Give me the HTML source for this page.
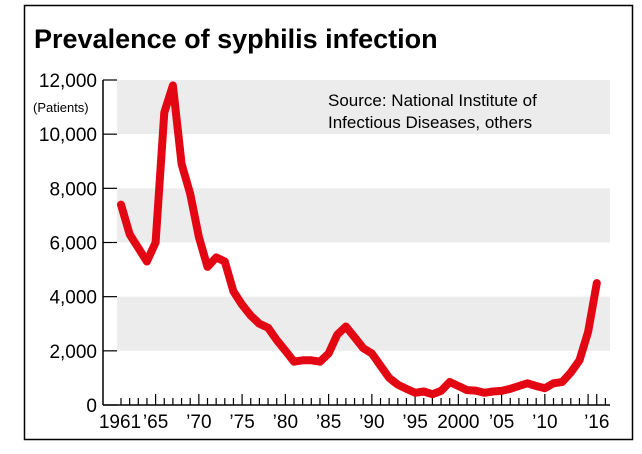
<!DOCTYPE html>
<html><head><meta charset="utf-8"><style>
body{margin:0;background:#fff;width:642px;height:449px;overflow:hidden;font-family:"Liberation Sans",Arial,sans-serif}
</style></head><body>
<svg width="642" height="449">
<rect x="24.5" y="5.5" width="608" height="434" fill="none" stroke="#000" stroke-width="1.5"/>
<text x="34" y="48" font-size="27" font-weight="bold">Prevalence of syphilis infection</text>
<g id="bands"></g>
<g id="yaxis"></g>
<g id="xaxis"></g>
<text x="33" y="112" font-size="13">(Patients)</text>
<text x="328" y="106" font-size="17">Source: National Institute of</text>
<text x="328" y="128" font-size="17">Infectious Diseases, others</text>
<path id="line" fill="none" stroke="#e30613" stroke-width="8" stroke-linejoin="round" stroke-linecap="round"/>
</svg>
<script>
const years=[];for(let y=1961;y<=2016;y++)years.push(y);
const patients=[7400,6300,5800,5300,6000,10800,11800,8900,7800,6200,5100,5450,5300,4200,3700,3300,3000,2850,2400,2000,1600,1650,1650,1600,1900,2600,2900,2500,2100,1900,1450,1000,750,600,450,500,400,520,850,700,550,530,450,500,520,600,700,800,700,620,800,850,1200,1650,2700,4500];
const yTicks=[0,2000,4000,6000,8000,10000,12000];
const yTickLabels=["0","2,000","4,000","6,000","8,000","10,000","12,000"];
const xLabelYears=[1961,1965,1970,1975,1980,1985,1990,1995,2000,2005,2010,2016];
const xLabels=["1961","\u201965","\u201970","\u201975","\u201980","\u201985","\u201990","\u201995","2000","\u201905","\u201910","\u201916"];
const NS="http://www.w3.org/2000/svg";
const X=y=>121+(y-1961)*8.65, Y=v=>405-v*(325/12000);
function mk(t,a,p){const e=document.createElementNS(NS,t);for(const k in a)e.setAttribute(k,a[k]);p.appendChild(e);return e;}
const bands=document.getElementById('bands');
[[10000,12000],[6000,8000],[2000,4000]].forEach(b=>{
 const r=mk('rect',{x:117,y:Y(b[1]),width:493,height:Y(b[0])-Y(b[1]),fill:'#ececec'},bands);
 
 
});
const ya=document.getElementById('yaxis');
const yl=mk('line',{x1:103,y1:Y(12000),x2:103,y2:405,stroke:'#000','stroke-width':1.5},ya);


yTicks.forEach((v,i)=>{
 mk('line',{x1:103,y1:Y(v),x2:117,y2:Y(v),stroke:'#000','stroke-width':1.2},ya);
 const t=mk('text',{x:97,y:Y(v)+7,'font-size':19,'text-anchor':'end'},ya);
 t.textContent=yTickLabels[i];
 
 
});
const xa=document.getElementById('xaxis');
const xl=mk('line',{x1:103,y1:405,x2:610,y2:405,stroke:'#000','stroke-width':1.5},xa);


for(let y=1961;y<=2017;y++){
 const major=(y%5===0)||y===2016;
 mk('line',{x1:X(y),y1:405,x2:X(y),y2:major?394:398,stroke:'#000','stroke-width':1.2},xa);
}
xLabelYears.forEach((y,i)=>{
 const t=mk('text',{x:X(y)+(i===0?-1:0),y:428,'font-size':19,'text-anchor':'middle'},xa);
 t.textContent=xLabels[i];
 
 
});
document.getElementById('line').setAttribute('d',patients.map((v,i)=>(i?'L':'M')+X(years[i]).toFixed(1)+' '+Y(v).toFixed(1)).join(' '));
</script>
</body></html>
